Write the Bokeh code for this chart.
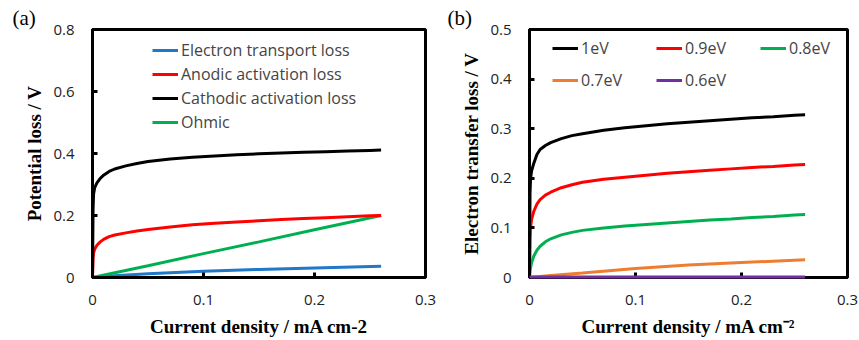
from bokeh.plotting import figure
from bokeh.layouts import row
from bokeh.models import Legend, LegendItem, FixedTicker, Range1d
from bokeh.embed import file_html
from bokeh.resources import INLINE

# ---------------- panel (a) data ----------------
x_act = [0, 0.0005, 0.001, 0.002, 0.004, 0.007, 0.01, 0.015, 0.02, 0.03, 0.04, 0.05,
         0.07, 0.09, 0.11, 0.13, 0.15, 0.17, 0.19, 0.21, 0.23, 0.25, 0.26]
cathodic = [0, 0.22, 0.27, 0.29, 0.305, 0.32, 0.33, 0.342, 0.35, 0.36, 0.368, 0.374,
            0.382, 0.388, 0.392, 0.396, 0.399, 0.402, 0.404, 0.406, 0.408, 0.41, 0.411]
anodic = [0, 0.06, 0.08, 0.092, 0.104, 0.115, 0.123, 0.132, 0.137, 0.144, 0.15, 0.155,
          0.163, 0.17, 0.175, 0.179, 0.183, 0.187, 0.19, 0.193, 0.196, 0.199, 0.2]
x_ohm = [0, 0.05, 0.1, 0.15, 0.2, 0.26]
ohmic = [0, 0.038, 0.077, 0.115, 0.154, 0.2]
x_et = [0, 0.01, 0.02, 0.05, 0.1, 0.15, 0.2, 0.26]
electron_transport = [0, 0.003, 0.006, 0.012, 0.02, 0.026, 0.031, 0.036]

a_names = ["Electron transport loss", "Anodic activation loss",
           "Cathodic activation loss", "Ohmic"]
a_colors = ["#1F78C8", "#FF0000", "#000000", "#00B050"]

# ---------------- panel (b) data ----------------
x_b = [0, 0.0005, 0.001, 0.002, 0.004, 0.007, 0.01, 0.015, 0.02, 0.03, 0.04, 0.05,
       0.07, 0.09, 0.11, 0.13, 0.15, 0.17, 0.19, 0.21, 0.23, 0.25, 0.26]
ev_10 = [0, 0.17, 0.2, 0.215, 0.23, 0.248, 0.258, 0.266, 0.272, 0.28, 0.286, 0.29,
         0.297, 0.302, 0.306, 0.31, 0.313, 0.316, 0.319, 0.322, 0.324, 0.327, 0.328]
ev_09 = [0, 0.08, 0.1, 0.118, 0.133, 0.148, 0.157, 0.166, 0.172, 0.181, 0.187, 0.192,
         0.198, 0.202, 0.206, 0.21, 0.213, 0.216, 0.219, 0.222, 0.224, 0.227, 0.228]
ev_08 = [0, 0.012, 0.02, 0.03, 0.043, 0.055, 0.063, 0.072, 0.078, 0.086, 0.091, 0.095,
         0.1, 0.104, 0.107, 0.11, 0.113, 0.116, 0.118, 0.121, 0.123, 0.126, 0.127]
x_b_low = [0, 0.01, 0.02, 0.05, 0.1, 0.15, 0.2, 0.26]
ev_07 = [0, 0.002, 0.004, 0.009, 0.018, 0.025, 0.03, 0.036]
ev_06 = [0.001, 0.001, 0.001, 0.001, 0.001, 0.001, 0.001, 0.001]

b_names = ["1eV", "0.9eV", "0.8eV", "0.7eV", "0.6eV"]
b_colors = ["#000000", "#FF0000", "#00B050", "#ED7D31", "#7030A0"]

# ---------------- ticks and panel tags ----------------
x_ticks = [0, 0.1, 0.2, 0.3]
x_tick_labels = ["0", "0.1", "0.2", "0.3"]
ya_ticks = [0, 0.2, 0.4, 0.6, 0.8]
ya_tick_labels = ["0", "0.2", "0.4", "0.6", "0.8"]
yb_ticks = [0, 0.1, 0.2, 0.3, 0.4, 0.5]
yb_tick_labels = ["0", "0.1", "0.2", "0.3", "0.4", "0.5"]
panel_tags = ["(a)", "(b)"]

TICK_FONT = "Open Sans"
TITLE_FONT = "Liberation Serif"


def make_fig(width, border_left, border_right, ymax, yticks, ylabels, xtitle, ytitle,
             tag, tag_offset):
    p = figure(width=width, height=340, output_backend="svg", toolbar_location=None,
               x_range=Range1d(0, 0.3), y_range=Range1d(0, ymax),
               min_border_left=border_left, min_border_right=border_right,
               min_border_top=29, min_border_bottom=63)
    p.xgrid.visible = False
    p.ygrid.visible = False
    p.outline_line_color = "#000000"
    p.outline_line_width = 3
    p.outline_line_alpha = 1.0
    p.background_fill_color = "white"
    p.border_fill_color = "white"
    p.title.text = tag
    p.title.align = "left"
    p.title.offset = tag_offset
    p.title.standoff = 0
    p.title.text_font = TITLE_FONT
    p.title.text_font_size = "21px"
    p.title.text_font_style = "normal"
    p.title.text_color = "black"
    for ax, ticks, labels in ((p.xaxis[0], x_ticks, x_tick_labels),
                              (p.yaxis[0], yticks, ylabels)):
        ax.ticker = FixedTicker(ticks=ticks)
        ax.major_label_overrides = {t: l for t, l in zip(ticks, labels)}
        ax.minor_tick_line_color = None
        ax.major_tick_in = 5
        ax.major_tick_out = 0
        ax.major_tick_line_width = 3
        ax.major_tick_line_color = "#000000"
        ax.axis_line_width = 3
        ax.axis_line_color = "#000000"
        ax.major_label_text_font = TICK_FONT
        ax.major_label_text_font_size = "15px"
        ax.major_label_text_color = "#222222"
        ax.axis_label_text_font = TITLE_FONT
        ax.axis_label_text_font_style = "bold"
        ax.axis_label_text_font_size = "19px"
        ax.axis_label_text_color = "black"
    p.xaxis.axis_label = xtitle
    p.yaxis.axis_label = ytitle
    p.xaxis.major_label_standoff = 17
    p.xaxis.axis_label_standoff = 8
    p.yaxis.major_label_standoff = 18
    p.yaxis.axis_label_standoff = 5
    return p


# ---------------- figure (a) ----------------
pa = make_fig(436, 92, 11, 0.8, ya_ticks, ya_tick_labels,
              "Current density / mA cm-2", "Potential loss / V", panel_tags[0], -80)
ra_et = pa.line(x_et, electron_transport, line_color=a_colors[0], line_width=3)
ra_ohm = pa.line(x_ohm, ohmic, line_color=a_colors[3], line_width=3)
ra_an = pa.line(x_act, anodic, line_color=a_colors[1], line_width=3)
ra_ca = pa.line(x_act, cathodic, line_color=a_colors[2], line_width=3)
legend_a = Legend(items=[LegendItem(label=a_names[0], renderers=[ra_et]),
                         LegendItem(label=a_names[1], renderers=[ra_an]),
                         LegendItem(label=a_names[2], renderers=[ra_ca]),
                         LegendItem(label=a_names[3], renderers=[ra_ohm])],
                  location=(60, 143), padding=0, margin=0, spacing=0,
                  glyph_width=26, label_height=24, glyph_height=20, label_standoff=3,
                  label_text_font=TICK_FONT, label_text_font_size="16px",
                  border_line_color=None, background_fill_alpha=0)
pa.add_layout(legend_a)

# ---------------- figure (b) ----------------
pb = make_fig(423, 93, 12, 0.5, yb_ticks, yb_tick_labels,
              "Current density / mA cm\u207b\u00b2", "Electron transfer loss / V",
              panel_tags[1], -82)
rb = []
rb.append(pb.line(x_b, ev_10, line_color=b_colors[0], line_width=3))
rb.append(pb.line(x_b, ev_09, line_color=b_colors[1], line_width=3))
rb.append(pb.line(x_b, ev_08, line_color=b_colors[2], line_width=3))
rb.append(pb.line(x_b_low, ev_07, line_color=b_colors[3], line_width=3))
rb.append(pb.line(x_b_low, ev_06, line_color=b_colors[4], line_width=3, level="overlay"))
legend_b = Legend(items=[LegendItem(label=n, renderers=[r]) for n, r in zip(b_names, rb)],
                  orientation="horizontal", ncols=3,
                  location=(23, 181), padding=0, margin=0, spacing=0,
                  glyph_width=26, label_height=32, glyph_height=20, label_width=75,
                  label_standoff=3,
                  label_text_font=TICK_FONT, label_text_font_size="16px",
                  border_line_color=None, background_fill_alpha=0)
pb.add_layout(legend_b)

layout = row(pa, pb)
open("out.html", "w").write(file_html(layout, INLINE))
